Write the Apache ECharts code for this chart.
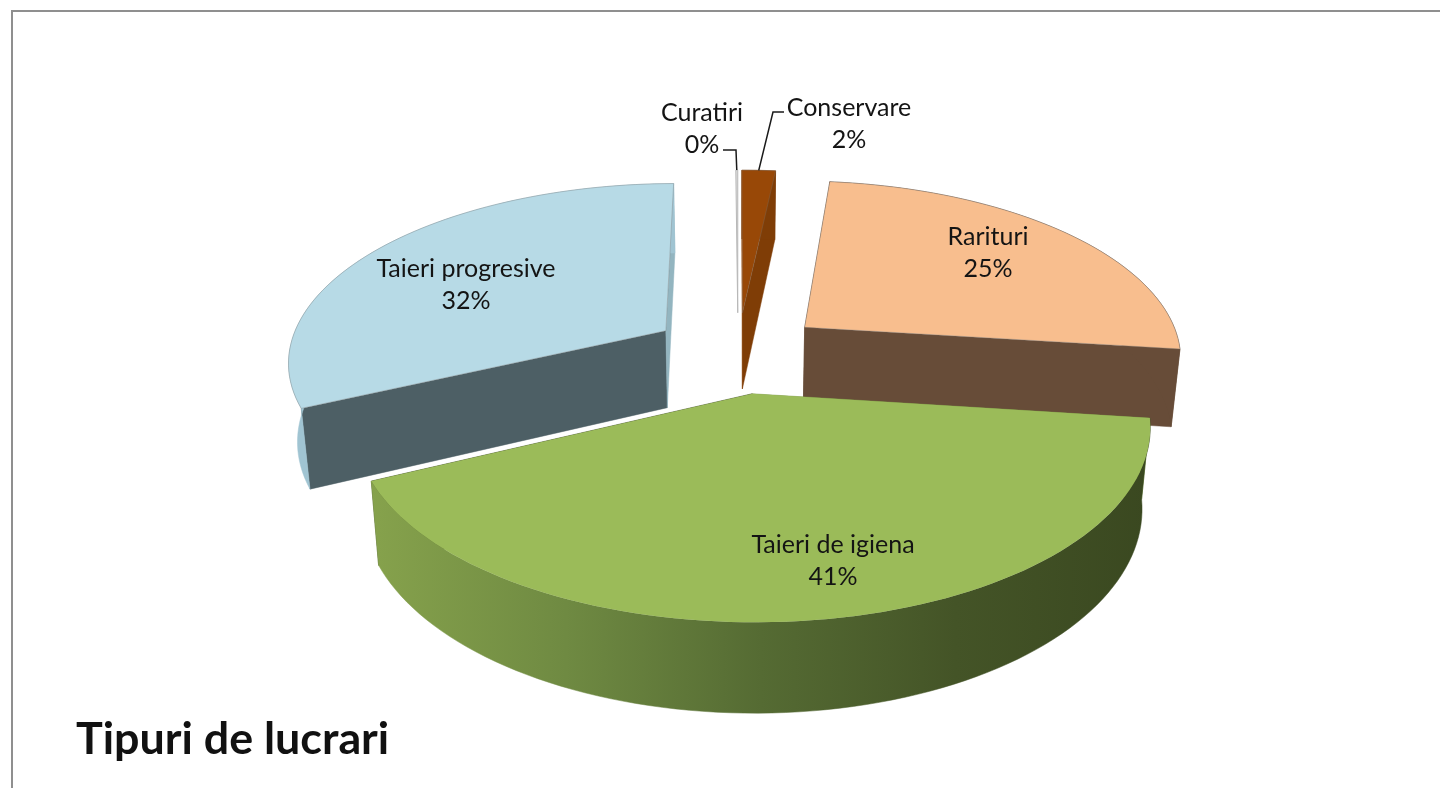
<!DOCTYPE html>
<html>
<head>
<meta charset="utf-8">
<title>Tipuri de lucrari</title>
<script src="https://cdn.jsdelivr.net/npm/echarts@6/dist/echarts.min.js"></script>
<style>
  html, body { margin: 0; background: #fff; }
  #chart { width: 1440px; height: 788px; }
</style>
</head>
<body>
<div id="chart"></div>
<script>
const categories = ['Conservare', 'Rarituri', 'Taieri de igiena', 'Taieri progresive', 'Curatiri']
// the labels show them rounded
const shares = [1.7, 25.3, 41, 31.9, 0.1]

const topColors = ['#984807', '#F8BE8E', '#9BBB59', '#B7DAE6', '#dddddd']
const startFaceColors = ['#984807', '#674C38', '#7E9A48', '#4D5F65', 'transparent']
const endFaceColors = ['#7F3D06', '#674C38', '#3C4A21', '#93B5C0', 'transparent']
const wallColors = ['#7F3D06', '#674C38', null, '#A0C4D2', 'transparent']
const edgeColors = ['rgba(120,120,120,0.3)', 'rgba(120,120,120,0.35)', 'rgba(120,120,120,0)', 'rgba(120,120,120,0.35)', '#b8b8b8']

// text centre of each label, and where a leader line starts (if it has one)
const labelSpots = [[849, 124], [988, 253], [833, 561], [466, 285], [702, 129]]
const leaderStarts = [[[784, 112], [773, 112]], null, null, null, [[723, 150], [736, 150]]]

// pie sits on a tilted plane: world radius is 1, Y goes away from the viewer
const CX = 738
const CY = 352
const A = 378
const B = 177
const K = 0.16
const H = 78
const LEAN = 0.02
const EXPLODE = 0.23

function project(X, Y, low) {
  const w = 1 / (1 + K * Y)
  let x = CX + A * X * w
  let y = CY - B * Y * w
  if (low) {
    x = CX + (x - CX) * (1 - LEAN)
    y += H * Math.pow(w, 0.7)
  }
  return [x, y]
}

const total = shares.reduce((a, b) => a + b, 0)

function sliceAngles(idx) {
  const before = shares.slice(0, idx).reduce((a, b) => a + b, 0)
  const start = (before / total) * 2 * Math.PI
  return [start, start + (shares[idx] / total) * 2 * Math.PI]
}

function renderSlice(params, api) {
  const idx = api.value(0)
  const [start, end] = sliceAngles(idx)
  const mid = (start + end) / 2
  const ox = Math.sin(mid) * EXPLODE
  const oy = Math.cos(mid) * EXPLODE

  const rim = (t, low) => project(ox + Math.sin(t), oy + Math.cos(t), low)
  const steps = Math.max(1, Math.ceil((end - start) / 0.03))
  const topArc = []
  const lowArc = []
  for (let i = 0; i <= steps; i++) {
    const t = start + ((end - start) * i) / steps
    topArc.push(rim(t, false))
    lowArc.push(rim(t, true))
  }
  const apex = project(ox, oy, false)
  const apexLow = project(ox, oy, true)

  const poly = (points, fill, stroke) => ({
    type: 'polygon',
    shape: { points },
    style: { fill, stroke: stroke || fill, lineWidth: stroke ? 1 : 0.5 },
    silent: true,
  })

  let wallFill = wallColors[idx]
  if (!wallFill) {
    wallFill = {
      type: 'linear', x: 0, y: 0, x2: 1, y2: 0,
      colorStops: [
        { offset: 0, color: '#86A24C' },
        { offset: 0.25, color: '#6F8A42' },
        { offset: 0.5, color: '#556B33' },
        { offset: 0.75, color: '#445427' },
        { offset: 1, color: '#3A4820' },
      ],
    }
  }
  const children = [
    poly([apex, topArc[0], lowArc[0], apexLow], startFaceColors[idx]),
    poly([apex, topArc[steps], lowArc[steps], apexLow], endFaceColors[idx]),
    poly(topArc.concat(lowArc.slice().reverse()), wallFill),
    poly([apex].concat(topArc), topColors[idx], edgeColors[idx]),
  ]

  if (leaderStarts[idx]) {
    children.push({
      type: 'polyline',
      shape: { points: leaderStarts[idx].concat([rim(mid, false)]) },
      style: { fill: null, stroke: '#1a1a1a', lineWidth: 1.5 },
      silent: true,
    })
  }
  children.push({
    type: 'text',
    silent: true,
    style: {
      text: categories[idx] + '\n' + Math.round(shares[idx]) + '%',
      x: labelSpots[idx][0],
      y: labelSpots[idx][1],
      align: 'center',
      verticalAlign: 'middle',
      font: '25px Lato',
      lineHeight: 32,
      fill: '#141414',
    },
  })
  return { type: 'group', children }
}

const chart = echarts.init(document.getElementById('chart'))
chart.setOption({
  animation: false,
  backgroundColor: '#fff',
  title: {
    text: 'Tipuri de lucrari',
    left: 71,
    top: 712,
    textStyle: { color: '#111', fontFamily: 'Lato', fontWeight: 'bold', fontSize: 44.8 },
  },
  graphic: [
    { type: 'line', shape: { x1: 11, y1: 11, x2: 1440, y2: 11 }, style: { stroke: '#8f8f8f', lineWidth: 2 } },
    { type: 'line', shape: { x1: 12, y1: 10, x2: 12, y2: 788 }, style: { stroke: '#8f8f8f', lineWidth: 2 } },
  ],
  series: [
    {
      type: 'custom',
      coordinateSystem: 'none',
      renderItem: renderSlice,
      data: categories.map((c, i) => [i, shares[i]]),
    },
  ],
})
</script>
</body>
</html>
